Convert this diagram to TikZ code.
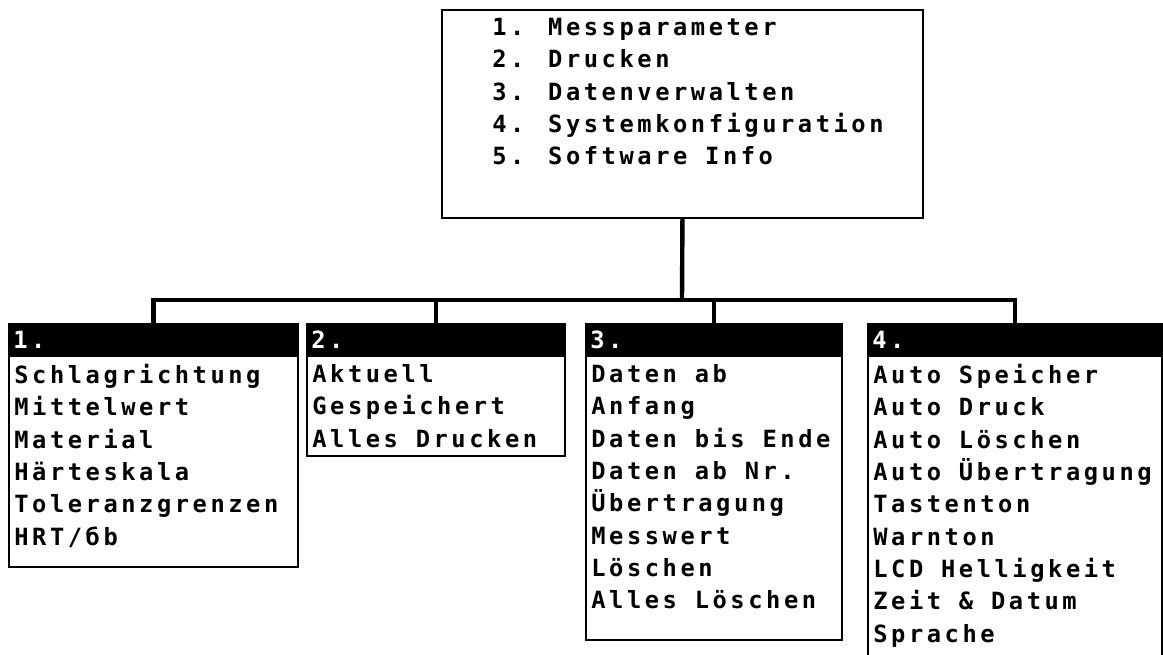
\documentclass[tikz,border=0pt]{standalone}
\usepackage{fontspec}
\newfontfamily\lcdfont[LetterSpace=15]{DejaVu Sans Mono Bold}
\newcommand\lcd{\lcdfont\fontsize{13.5}{18.4}\selectfont}

\begin{document}
\begin{tikzpicture}[x=0.02cm, y=-0.02cm,
    menubox/.style={draw, line width=1pt, inner sep=0pt, outer sep=0pt, anchor=north west},
    headtext/.style={text=white, font=\lcd, inner sep=0pt, anchor=west},
    items/.style={align=left, font=\lcd, inner sep=0pt, anchor=north west},
    link/.style={line width=2.5pt}]

      % Frame
      \clip (0,0) rectangle (1163,655);

      % Main menu
      \node[menubox, minimum width=9.62cm, minimum height=4.16cm] (menu) at (442,10) {};
      \node[items] (menutext) at ([shift={(50,8)}]menu.north west)
        {1. Messparameter\\2. Drucken\\3. Datenverwalten\\4. Systemkonfiguration\\5. Software Info};

      % Submenu boxes
      \node[menubox, minimum width=5.78cm, minimum height=4.86cm] (box1) at (9,324) {};
      \node[menubox, minimum width=5.16cm, minimum height=2.64cm] (box2) at (307,324) {};
      \node[menubox, minimum width=5.12cm, minimum height=6.32cm] (box3) at (586,324) {};
      \node[menubox, minimum width=5.88cm, minimum height=7.52cm] (box4) at (868,324) {};

      % Header bars
      \foreach \b in {1,...,4} {
        \fill (box\b.north west) rectangle ([yshift=-0.66cm]box\b.north east);
        \node[headtext] (head\b) at ([shift={(4,16)}]box\b.north west) {\b.};
      }

      % Items
      \node[items] (list1) at ([shift={(5,40)}]box1.north west)
        {Schlagrichtung\\Mittelwert\\Material\\Härteskala\\Toleranzgrenzen\\HRT/бb};
      \node[items] (list2) at ([shift={(5,40)}]box2.north west)
        {Aktuell\\Gespeichert\\Alles Drucken};
      \node[items] (list3) at ([shift={(5,40)}]box3.north west)
        {Daten ab\\Anfang\\Daten bis Ende\\Daten ab Nr.\\Übertragung\\Messwert\\Löschen\\Alles Löschen};
      \node[items] (list4) at ([shift={(5,40)}]box4.north west)
        {Auto Speicher\\Auto Druck\\Auto Löschen\\Auto Übertragung\\Tastenton\\Warnton\\LCD Helligkeit\\Zeit \& Datum\\Sprache};

      % Connections
      \coordinate (fork) at (682,300);
      \draw[link] (menu.south) -- (fork);
      \foreach \b in {1,...,4}
        \draw[link] (box\b.north) |- (fork);
    \end{tikzpicture}
\end{document}
